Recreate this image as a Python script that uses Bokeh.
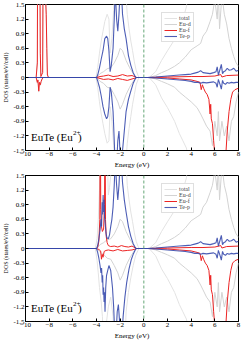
from bokeh.plotting import figure
from bokeh.layouts import column
from bokeh.models import Legend, LegendItem, Label, Span, FixedTicker
from bokeh.embed import file_html
from bokeh.resources import INLINE

# ---------------- data (energy in eV, DOS in states/eV/cell) ----------------
START_E = [-10.0]
START_V = [0.0]

# conduction band (shared by both panels)
TOT_UP_CB_E = [0.45, 1.0, 1.5, 2.0, 2.6, 3.0, 3.3, 3.6, 3.8, 8.0]
TOT_UP_CB_V = [0.0, 0.12, 0.35, 0.55, 0.78, 1.0, 1.2, 1.45, 2.0, 2.0]
TOT_DN_CB_E = [0.45, 1.0, 1.5, 2.0, 2.6, 3.0, 3.3, 3.6, 4.0, 8.0]
TOT_DN_CB_V = [0.0, -0.15, -0.42, -0.62, -0.9, -1.15, -1.3, -1.45, -2.0, -2.0]

EUD_UP_CB_E = [0.5, 1.0, 1.5, 2.0, 2.6, 3.0, 3.5, 4.0, 4.5, 4.8, 5.0, 5.3, 5.6, 5.8, 6.0, 6.2, 6.3, 6.4, 6.6, 6.8, 7.0, 7.2, 7.4, 7.6, 7.8, 8.0]
EUD_UP_CB_V = [0.0, 0.04, 0.1, 0.15, 0.23, 0.3, 0.42, 0.57, 0.65, 0.7, 0.85, 0.95, 1.15, 1.3, 1.6, 1.2, 1.7, 1.0, 1.7, 1.3, 1.1, 0.8, 0.6, 0.43, 0.3, 0.23]
EUD_DN_CB_E = [0.5, 1.0, 1.5, 2.0, 2.6, 3.0, 3.5, 4.0, 4.5, 4.8, 5.0, 5.3, 5.6, 5.8, 6.0, 6.2, 6.3, 6.4, 6.6, 6.8, 7.0, 7.2, 7.4, 7.6, 7.8, 8.0]
EUD_DN_CB_V = [0.0, -0.03, -0.08, -0.13, -0.2, -0.3, -0.4, -0.5, -0.62, -0.75, -0.85, -1.0, -1.1, -1.4, -0.9, -1.2, -0.7, -1.3, -0.9, -1.2, -1.0, -1.3, -0.9, -0.8, -0.5, -0.3]

EUF_UP_CB_E = [0.3, 2.0, 4.0, 5.0, 6.0, 6.5, 6.6, 7.0, 8.0]
EUF_UP_CB_V = [0.0, 0.01, 0.02, 0.02, 0.03, 0.06, 0.01, 0.04, 0.05]
EUF_DN_CB_E = [0.3, 2.0, 3.0, 4.0, 4.5, 4.75, 4.85, 4.95, 5.05, 5.2, 5.35, 5.5, 5.6, 5.65, 5.7, 5.8, 5.9, 6.0, 6.1, 6.85, 6.95, 7.05, 7.2, 7.35, 7.5, 7.7, 8.0]
EUF_DN_CB_V = [0.0, -0.01, -0.03, -0.05, -0.08, -0.1, -0.25, -0.15, -0.22, -0.3, -0.35, -0.45, -0.75, -0.55, -0.85, -0.95, -1.3, -1.6, -1.8, -1.8, -1.5, -1.1, -0.7, -0.45, -0.3, -0.25, -0.22]

TEP_UP_CB_E = [0.3, 1.0, 2.0, 3.0, 3.5, 4.0, 4.3, 4.6, 4.8, 5.0, 5.3, 5.6, 5.9, 6.1, 6.2, 6.3, 6.45, 6.55, 6.65, 6.75, 6.9, 7.05, 7.2, 7.4, 7.6, 7.8, 8.0]
TEP_UP_CB_V = [0.0, 0.01, 0.03, 0.05, 0.06, 0.07, 0.09, 0.11, 0.14, 0.1, 0.09, 0.08, 0.1, 0.12, 0.22, 0.05, 0.18, 0.27, 0.08, 0.12, 0.14, 0.19, 0.15, 0.16, 0.19, 0.13, 0.15]
TEP_DN_CB_E = [0.3, 1.0, 2.0, 3.0, 3.5, 4.0, 4.3, 4.6, 4.8, 5.0, 5.3, 5.6, 5.9, 6.1, 6.2, 6.3, 6.45, 6.55, 6.65, 6.75, 6.9, 7.05, 7.2, 7.4, 7.6, 7.8, 8.0]
TEP_DN_CB_V = [0.0, -0.01, -0.03, -0.05, -0.06, -0.08, -0.1, -0.1, -0.12, -0.1, -0.11, -0.1, -0.09, -0.12, -0.2, -0.04, -0.15, -0.24, -0.06, -0.12, -0.14, -0.1, -0.12, -0.1, -0.11, -0.1, -0.1]

# shared Eu-d valence part
EUD_UP_VB_E = [-4.0, -3.7, -3.4, -3.1, -2.8, -2.5, -2.2, -2.0, -1.8, -1.5, -1.2, -0.9, -0.65]
EUD_UP_VB_V = [0.0, 0.08, 0.12, 0.18, 0.2, 0.3, 0.45, 0.6, 0.55, 0.35, 0.2, 0.08, 0.0]
EUD_DN_VB_E = [-4.0, -3.7, -3.4, -3.1, -2.8, -2.5, -2.2, -2.0, -1.8, -1.5, -1.2, -0.9, -0.65]
EUD_DN_VB_V = [0.0, -0.08, -0.12, -0.2, -0.22, -0.35, -0.5, -0.65, -0.55, -0.35, -0.2, -0.08, 0.0]

# ---- top panel: Eu 4f states split off at about -8.6 eV ----
TOP_TOT_UP_DEEP_E = [-9.1, -9.0, -8.97, -8.9, -8.8, -8.75, -8.7, -8.55, -8.5, -8.42, -8.35, -8.3, -8.25, -8.2, -8.15, -8.05]
TOP_TOT_UP_DEEP_V = [0.0, 0.35, 3.0, 2.6, 3.0, 0.6, 0.05, 0.12, 3.0, 2.6, 3.0, 1.7, 1.4, 0.7, 0.08, 0.0]
TOP_TOT_DN_DEEP_E = [-9.1, -9.0, -8.95, -8.88, -8.82, -8.75, -8.68, -8.6, -8.5]
TOP_TOT_DN_DEEP_V = [0.0, -0.12, -0.07, -0.3, -0.12, -0.17, -0.1, -0.04, 0.0]
TOP_EUF_UP_DEEP_E = [-9.1, -9.0, -8.97, -8.9, -8.8, -8.75, -8.7, -8.55, -8.5, -8.42, -8.35, -8.3, -8.25, -8.2, -8.15, -8.05]
TOP_EUF_UP_DEEP_V = [0.0, 0.3, 3.0, 2.5, 3.0, 0.5, 0.02, 0.1, 3.0, 2.5, 3.0, 1.6, 1.3, 0.6, 0.05, 0.0]
TOP_EUF_DN_DEEP_E = [-9.1, -9.0, -8.95, -8.88, -8.82, -8.75, -8.68, -8.6, -8.5]
TOP_EUF_DN_DEEP_V = [0.0, -0.1, -0.05, -0.28, -0.1, -0.15, -0.08, -0.03, 0.0]

TOP_TOT_UP_VB_E = [-4.05, -3.9, -3.75, -3.6, -3.45, -3.3, -3.1, -2.95, -2.85, -2.7, -2.55, -2.45, -1.6, -1.4, -1.25, -1.1, -0.95, -0.8, -0.65, -0.5, -0.4]
TOP_TOT_UP_VB_V = [0.0, 0.2, 0.5, 0.75, 0.95, 1.15, 1.3, 1.2, 0.5, 0.8, 1.4, 2.0, 2.0, 1.3, 1.0, 0.75, 0.55, 0.32, 0.15, 0.05, 0.0]
TOP_TOT_DN_VB_E = [-4.05, -3.9, -3.75, -3.6, -3.45, -3.3, -3.1, -2.95, -2.85, -2.7, -2.55, -2.45, -1.6, -1.4, -1.25, -1.1, -0.95, -0.8, -0.65, -0.5, -0.4]
TOP_TOT_DN_VB_V = [0.0, -0.2, -0.5, -0.75, -0.95, -1.15, -1.35, -1.3, -0.6, -0.9, -1.4, -2.0, -2.0, -1.35, -1.05, -0.8, -0.55, -0.35, -0.15, -0.05, 0.0]

TOP_EUF_UP_VB_E = [-4.0, -3.7, -3.4, -3.0, -2.6, -2.2, -1.8, -1.4, -1.0, -0.7, -0.6]
TOP_EUF_UP_VB_V = [0.0, 0.02, 0.03, 0.05, 0.02, 0.03, 0.06, 0.03, 0.04, 0.01, 0.0]
TOP_EUF_DN_VB_E = [-4.0, -3.7, -3.4, -3.0, -2.6, -2.2, -1.8, -1.4, -1.0, -0.7, -0.6]
TOP_EUF_DN_VB_V = [0.0, -0.02, -0.04, -0.03, -0.05, -0.02, -0.04, -0.06, -0.03, -0.01, 0.0]

TOP_TEP_UP_VB_E = [-4.0, -3.9, -3.75, -3.6, -3.45, -3.3, -3.15, -3.05, -2.95, -2.85, -2.75, -2.6, -2.5, -2.42, -2.3, -2.2, -2.1, -2.0, -1.9, -1.8, -1.65, -1.5, -1.3, -1.1, -0.9, -0.75, -0.65]
TOP_TEP_UP_VB_V = [0.0, 0.05, 0.2, 0.38, 0.55, 0.8, 0.85, 0.8, 0.55, 0.12, 0.25, 0.6, 1.2, 1.8, 1.2, 0.95, 1.3, 1.8, 1.8, 1.3, 1.0, 0.8, 0.45, 0.25, 0.1, 0.03, 0.0]
TOP_TEP_DN_VB_E = [-4.0, -3.9, -3.75, -3.6, -3.45, -3.3, -3.15, -3.05, -2.95, -2.85, -2.75, -2.6, -2.5, -2.42, -2.3, -2.2, -2.1, -2.0, -1.9, -1.8, -1.65, -1.5, -1.3, -1.1, -0.9, -0.75, -0.65]
TOP_TEP_DN_VB_V = [0.0, -0.07, -0.2, -0.38, -0.6, -0.75, -0.85, -0.8, -0.6, -0.2, -0.3, -0.7, -1.3, -1.8, -1.8, -1.3, -1.1, -1.6, -1.8, -1.5, -1.1, -0.7, -0.45, -0.28, -0.12, -0.04, 0.0]

# ---- bottom panel: Eu 4f states hybridised with Te-p at about -3.5 eV ----
BOT_TOT_UP_VB_E = [-4.1, -3.95, -3.85, -3.75, -3.7, -3.1, -3.0, -2.9, -2.6, -1.55, -1.4, -1.25, -1.1, -0.95, -0.8, -0.65, -0.5, -0.4]
BOT_TOT_UP_VB_V = [0.0, 0.2, 0.6, 1.2, 2.0, 2.0, 1.1, 1.25, 2.0, 2.0, 1.3, 1.0, 0.75, 0.55, 0.32, 0.15, 0.05, 0.0]
BOT_TOT_DN_VB_E = [-4.1, -3.95, -3.85, -3.75, -3.6, -3.5, -3.4, -3.2, -3.0, -2.8, -2.6, -2.5, -1.6, -1.5, -1.3, -1.1, -0.9, -0.7, -0.5, -0.4]
BOT_TOT_DN_VB_V = [0.0, -0.25, -0.5, -0.8, -1.1, -1.4, -2.0, -1.6, -1.2, -1.0, -1.4, -2.0, -2.0, -1.3, -0.9, -0.6, -0.35, -0.15, -0.04, 0.0]

BOT_EUF_UP_VB_E = [-4.0, -3.9, -3.8, -3.72, -3.68, -3.64, -3.58, -3.5, -3.4, -3.32, -3.28, -3.24, -3.18, -3.1, -3.0, -2.8, -2.5, -2.2, -1.9, -1.6, -1.3, -1.0, -0.7, -0.6]
BOT_EUF_UP_VB_V = [0.0, 0.02, 0.15, 0.6, 3.0, 0.8, 0.45, 0.35, 0.4, 0.9, 3.0, 0.6, 0.25, 0.12, 0.06, 0.04, 0.05, 0.03, 0.06, 0.04, 0.03, 0.05, 0.01, 0.0]
BOT_EUF_DN_VB_E = [-4.0, -3.8, -3.65, -3.58, -3.52, -3.45, -3.35, -3.2, -3.0, -2.6, -2.2, -1.8, -1.4, -1.0, -0.7, -0.6]
BOT_EUF_DN_VB_V = [0.0, -0.02, -0.05, -0.22, -0.12, -0.18, -0.06, -0.04, -0.03, -0.05, -0.02, -0.05, -0.04, -0.03, -0.01, 0.0]

BOT_TEP_UP_VB_E = [-4.0, -3.9, -3.8, -3.7, -3.62, -3.57, -3.52, -3.48, -3.44, -3.4, -3.36, -3.32, -3.26, -3.2, -3.12, -3.0, -2.9, -2.8, -2.7, -2.6, -2.5, -2.42, -2.3, -2.2, -2.1, -2.0, -1.9, -1.8, -1.65, -1.5, -1.3, -1.1, -0.9, -0.75, -0.65]
BOT_TEP_UP_VB_V = [0.0, 0.06, 0.2, 0.38, 0.6, 0.45, 0.95, 0.7, 1.1, 0.75, 1.0, 0.65, 0.5, 0.32, 0.22, 0.2, 0.28, 0.45, 0.6, 0.85, 1.3, 1.8, 1.3, 1.0, 1.3, 1.8, 1.8, 1.35, 1.0, 0.75, 0.45, 0.25, 0.1, 0.03, 0.0]
BOT_TEP_DN_VB_E = [-4.0, -3.9, -3.8, -3.7, -3.62, -3.57, -3.52, -3.48, -3.44, -3.4, -3.36, -3.32, -3.28, -3.22, -3.15, -3.05, -2.95, -2.8, -2.65, -2.55, -2.45, -2.35, -2.25, -2.15, -2.05, -1.95, -1.85, -1.75, -1.6, -1.45, -1.25, -1.05, -0.9, -0.75, -0.65]
BOT_TEP_DN_VB_V = [0.0, -0.08, -0.2, -0.35, -0.5, -0.4, -0.7, -0.55, -0.95, -0.8, -1.1, -0.9, -1.3, -0.8, -0.55, -0.45, -0.35, -0.45, -0.8, -1.2, -1.8, -1.8, -1.3, -1.15, -1.5, -1.8, -1.8, -1.4, -1.0, -0.7, -0.42, -0.22, -0.12, -0.04, 0.0]

SERIES_NAMES = ["total", "Eu-d", "Eu-f", "Te-p"]
X_TICKS = [-10, -8, -6, -4, -2, 0, 2, 4, 6, 8]
Y_TICKS = [-1.5, -1.2, -0.9, -0.6, -0.3, 0.0, 0.3, 0.6, 0.9, 1.2, 1.5]
Y_TICK_LABELS = ["-1.5", "-1.2", "-0.9", "-0.6", "-0.3", "0", "0.3", "0.6", "0.9", "1.2", "1.5"]

COLORS = {"total": "#e3e3e3", "Eu-d": "#d3d3d3", "Eu-f": "#ec2424", "Te-p": "#3347ab"}
SERIF = "Liberation Serif"


def cat(*parts):
    out = []
    for part in parts:
        out += list(part)
    return out


TOP = {
    "total": (cat(START_E, TOP_TOT_UP_DEEP_E, TOP_TOT_UP_VB_E, TOT_UP_CB_E), cat(START_V, TOP_TOT_UP_DEEP_V, TOP_TOT_UP_VB_V, TOT_UP_CB_V),
              cat(START_E, TOP_TOT_DN_DEEP_E, TOP_TOT_DN_VB_E, TOT_DN_CB_E), cat(START_V, TOP_TOT_DN_DEEP_V, TOP_TOT_DN_VB_V, TOT_DN_CB_V)),
    "Eu-d": (cat(START_E, EUD_UP_VB_E, EUD_UP_CB_E), cat(START_V, EUD_UP_VB_V, EUD_UP_CB_V),
             cat(START_E, EUD_DN_VB_E, EUD_DN_CB_E), cat(START_V, EUD_DN_VB_V, EUD_DN_CB_V)),
    "Eu-f": (cat(START_E, TOP_EUF_UP_DEEP_E, TOP_EUF_UP_VB_E, EUF_UP_CB_E), cat(START_V, TOP_EUF_UP_DEEP_V, TOP_EUF_UP_VB_V, EUF_UP_CB_V),
             cat(START_E, TOP_EUF_DN_DEEP_E, TOP_EUF_DN_VB_E, EUF_DN_CB_E), cat(START_V, TOP_EUF_DN_DEEP_V, TOP_EUF_DN_VB_V, EUF_DN_CB_V)),
    "Te-p": (cat(START_E, TOP_TEP_UP_VB_E, TEP_UP_CB_E), cat(START_V, TOP_TEP_UP_VB_V, TEP_UP_CB_V),
             cat(START_E, TOP_TEP_DN_VB_E, TEP_DN_CB_E), cat(START_V, TOP_TEP_DN_VB_V, TEP_DN_CB_V)),
}
BOT = {
    "total": (cat(START_E, BOT_TOT_UP_VB_E, TOT_UP_CB_E), cat(START_V, BOT_TOT_UP_VB_V, TOT_UP_CB_V),
              cat(START_E, BOT_TOT_DN_VB_E, TOT_DN_CB_E), cat(START_V, BOT_TOT_DN_VB_V, TOT_DN_CB_V)),
    "Eu-d": TOP["Eu-d"],
    "Eu-f": (cat(START_E, BOT_EUF_UP_VB_E, EUF_UP_CB_E), cat(START_V, BOT_EUF_UP_VB_V, EUF_UP_CB_V),
             cat(START_E, BOT_EUF_DN_VB_E, EUF_DN_CB_E), cat(START_V, BOT_EUF_DN_VB_V, EUF_DN_CB_V)),
    "Te-p": (cat(START_E, BOT_TEP_UP_VB_E, TEP_UP_CB_E), cat(START_V, BOT_TEP_UP_VB_V, TEP_UP_CB_V),
             cat(START_E, BOT_TEP_DN_VB_E, TEP_DN_CB_E), cat(START_V, BOT_TEP_DN_VB_V, TEP_DN_CB_V)),
}


def panel(curves):
    p = figure(width=241, height=171, x_range=(-10, 8), y_range=(-1.5, 1.5),
               output_backend="svg", toolbar_location=None,
               min_border_left=22, min_border_right=3, min_border_top=4, min_border_bottom=2)
    p.xgrid.visible = False
    p.ygrid.visible = False
    p.outline_line_color = "black"
    p.outline_line_width = 1
    p.background_fill_color = "white"
    p.border_fill_color = "white"

    span = Span(location=0, dimension="height", line_color="#66a878", line_dash="3 2", line_width=1)
    p.add_layout(span)

    renderers = {}
    order = ["total", "Eu-d", "Eu-f", "Te-p"]
    for name in order:
        xu, yu, xd, yd = curves[name]
        alpha = 0.88 if name == "Te-p" else 1.0
        width = 1.1 if name == "Te-p" else 1
        r = p.line(xu, yu, line_color=COLORS[name], line_width=width, line_alpha=alpha)
        p.line(xd, yd, line_color=COLORS[name], line_width=width, line_alpha=alpha)
        renderers[name] = r

    for ax in (p.xaxis[0], p.yaxis[0]):
        ax.major_label_text_font = SERIF
        ax.major_label_text_font_size = "7px"
        ax.major_label_text_color = "black"
        ax.axis_label_text_font = SERIF
        ax.axis_label_text_font_style = "normal"
        ax.axis_label_text_color = "black"
        ax.major_tick_in = 3
        ax.major_tick_out = 0
        ax.minor_tick_in = 0
        ax.minor_tick_out = 0
        ax.major_label_standoff = 1
        ax.axis_label_standoff = 1
        ax.axis_line_color = "black"

    p.xaxis.ticker = FixedTicker(ticks=X_TICKS)
    p.yaxis.ticker = FixedTicker(ticks=Y_TICKS)
    p.yaxis.major_label_overrides = {t: s for t, s in zip(Y_TICKS, Y_TICK_LABELS)}
    p.xaxis.axis_label = "Energy (eV)"
    p.xaxis.axis_label_text_font_size = "7px"
    p.xaxis.axis_label_standoff = 2
    p.yaxis.axis_label = "DOS (states/eV/cell)"
    p.yaxis.axis_label_text_font_size = "6px"

    items = [LegendItem(label=n, renderers=[renderers[n]]) for n in SERIES_NAMES]
    legend = Legend(items=items, location=(136, 108), orientation="vertical",
                    label_text_font=SERIF, label_text_font_size="6px",
                    label_text_line_height=1.0,
                    glyph_width=13, glyph_height=6, label_height=6, label_width=8,
                    label_standoff=2, spacing=0, padding=2, margin=0,
                    border_line_color="#c0c0c0", border_line_width=1,
                    background_fill_color="white", background_fill_alpha=1.0)
    p.add_layout(legend)

    lab_kw = dict(x=-9.53, y=-1.23, x_units="data", y_units="data",
                  text_font=SERIF, text_color="black", text_baseline="alphabetic")
    p.add_layout(Label(text="EuTe (Eu", text_font_size="11px", **lab_kw))
    p.add_layout(Label(text="2+", text_font_size="7px", x_offset=42, y_offset=4, **lab_kw))
    p.add_layout(Label(text=")", text_font_size="11px", x_offset=47, **lab_kw))
    return p


p_top = panel(TOP)
p_bot = panel(BOT)
p = column(p_top, p_bot, spacing=0)

open("out.html", "w").write(file_html(p, INLINE))
